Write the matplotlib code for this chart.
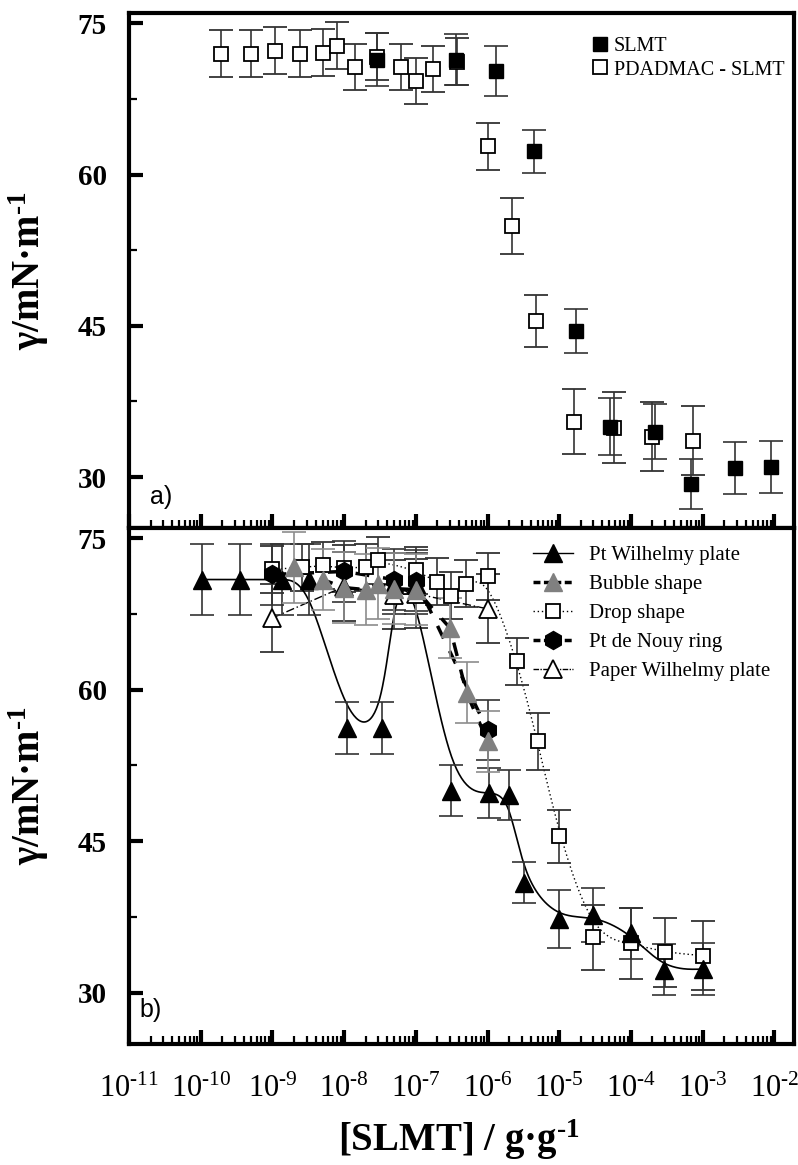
import numpy as np
import matplotlib
matplotlib.use("Agg")
import matplotlib.pyplot as plt
from matplotlib.lines import Line2D
from matplotlib.ticker import LogLocator, FixedLocator, NullFormatter, FuncFormatter

plt.rcParams["font.family"] = ["Liberation Serif", "DejaVu Serif"]
plt.rcParams["mathtext.fontset"] = "custom"
plt.rcParams["mathtext.rm"] = "Liberation Serif:bold"
plt.rcParams["mathtext.bf"] = "Liberation Serif:bold"
plt.rcParams["mathtext.it"] = "Liberation Serif:italic:bold"


# Panel a) data

slmt_x = [2.85e-8, 3.6e-7, 1.3e-6, 4.4e-6, 1.7e-5, 5.1e-5, 2.2e-4, 6.8e-4, 2.8e-3, 8.9e-3]
slmt_y = [71.4, 71.4, 70.3, 62.3, 44.5, 35.0, 34.5, 29.3, 30.9, 31.0]
slmt_err = [2.6, 2.5, 2.5, 2.1, 2.2, 2.8, 2.7, 2.5, 2.6, 2.6]

pdad_x = [1.9e-10, 5.1e-10, 1.1e-9, 2.4e-9, 5.0e-9, 8.0e-9, 1.4e-8, 2.9e-8, 6.3e-8,
          1.0e-7, 1.76e-7, 3.7e-7, 1.0e-6, 2.2e-6, 4.7e-6, 1.6e-5, 5.9e-5, 1.95e-4, 7.4e-4]
pdad_y = [72.0, 72.0, 72.3, 72.0, 72.1, 72.8, 70.7, 71.7, 70.7,
          69.3, 70.5, 71.2, 62.8, 54.9, 45.5, 35.5, 34.9, 34.0, 33.6]
pdad_err = [2.3, 2.3, 2.3, 2.3, 2.3, 2.3, 2.3, 2.3, 2.3,
            2.3, 2.3, 2.3, 2.3, 2.8, 2.6, 3.2, 3.5, 3.4, 3.4]

# Panel b) data

pw_x = [1.05e-10, 3.5e-10, 1.35e-9, 3.2e-9, 1.1e-8, 3.35e-8, 5.0e-8, 1.0e-7, 3.1e-7,
        1.05e-6, 2.0e-6, 3.26e-6, 1.0e-5, 3.0e-5, 1.0e-4, 2.9e-4, 1.0e-3]
pw_y = [70.9, 70.9, 70.9, 70.9, 56.2, 56.2, 70.5, 70.5, 50.0,
        49.8, 49.6, 40.9, 37.3, 37.7, 35.9, 32.3, 32.35]
pw_err = [3.5, 3.5, 3.5, 3.5, 2.6, 2.6, 3.0, 3.0, 2.5,
          2.5, 2.5, 2.05, 2.85, 2.7, 2.5, 2.5, 2.6]

bub_x = [2e-9, 5e-9, 1e-8, 2e-8, 3e-8, 5e-8, 1e-7, 3e-7, 5.1e-7, 1e-6]
bub_y = [72.1, 70.9, 70.1, 69.9, 70.5, 70.0, 69.9, 66.1, 59.7, 54.9]
bub_err = [3.5, 3.0, 3.5, 3.5, 3.5, 3.5, 3.5, 3.0, 3.0, 3.0]

drop_x = [1e-9, 2.6e-9, 5e-9, 1e-8, 2e-8, 3e-8, 1e-7, 2e-7, 3.1e-7, 5e-7, 1e-6,
          2.6e-6, 5e-6, 1e-5, 3e-5, 1e-4, 3e-4, 1e-3]
drop_y = [71.9, 72.1, 72.3, 72.0, 72.1, 72.8, 71.8, 70.7, 69.3, 70.5, 71.2,
          62.8, 54.9, 45.5, 35.5, 34.9, 34.0, 33.7]
drop_err = [2.3, 2.3, 2.3, 2.3, 2.3, 2.3, 2.3, 2.3, 2.3, 2.3, 2.3,
            2.3, 2.8, 2.6, 3.2, 3.5, 3.4, 3.4]

ring_x = [1e-9, 1e-8, 4.9e-8, 1e-7, 1e-6]
ring_y = [71.4, 71.7, 70.9, 70.8, 56.0]
ring_err = [3.0, 3.0, 3.0, 3.0, 3.0]

paper_x = [1e-9, 1e-8, 5e-8, 1e-7, 1e-6]
paper_y = [67.1, 70.2, 69.4, 69.5, 68.0]
paper_err = [3.4, 3.4, 3.4, 3.4, 3.4]

x_ticks = [10.0 ** k for k in range(-11, -1)]
y_ticks = [30, 45, 60, 75]
y_minor = [37.5, 52.5, 67.5]


def bspline(xs, ys, n=30):
    # clamped uniform cubic B-spline (Origin style "B-Spline" connect), in log-x space
    P = np.column_stack([np.log10(xs), ys])
    P = np.vstack([P[0], P[0], P, P[-1], P[-1]])
    M = np.array([[-1, 3, -3, 1], [3, -6, 3, 0], [-3, 0, 3, 0], [1, 4, 1, 0]]) / 6.0
    t = np.linspace(0, 1, n)
    T = np.column_stack([t ** 3, t ** 2, t, np.ones_like(t)])
    c = np.vstack([T @ M @ P[i:i + 4] for i in range(len(P) - 3)])
    return 10 ** c[:, 0], c[:, 1]


def style_axis(ax, xlabels):
    ax.set_xscale("log")
    ax.set_xlim(1e-11, 10 ** -1.725)
    ax.set_ylim(24.95, 76.0)
    ax.xaxis.set_major_locator(FixedLocator(x_ticks))
    ax.xaxis.set_minor_locator(LogLocator(base=10, subs=np.arange(2, 10), numticks=30))
    ax.xaxis.set_minor_formatter(NullFormatter())
    ax.yaxis.set_major_locator(FixedLocator(y_ticks))
    ax.yaxis.set_minor_locator(FixedLocator(y_minor))
    ax.tick_params(which="major", direction="in", length=10, width=3, top=False, right=False)
    ax.tick_params(which="minor", direction="in", length=5.5, width=1.6, top=False, right=False)
    ax.tick_params(axis="y", labelsize=21, pad=16)
    for lab in ax.get_yticklabels():
        lab.set_fontweight("bold")
    if xlabels:
        ax.xaxis.set_major_formatter(
            FuncFormatter(lambda v, p: r"$\mathregular{10^{\text{-}%d}}$" % round(-np.log10(v))))
        ax.tick_params(axis="x", labelsize=22, pad=22)
    else:
        ax.xaxis.set_major_formatter(NullFormatter())
    for s in ax.spines.values():
        s.set_linewidth(3)
    ax.set_ylabel("γ/mN·m$^{\\text{-}1}$", fontsize=28, fontweight="bold")
    ax.yaxis.set_label_coords(-0.118, 0.5)


fig = plt.figure(figsize=(7.98, 11.65), dpi=100)
ax1 = fig.add_axes([0.1617, 0.5468, 0.8333, 0.4418])
ax2 = fig.add_axes([0.1617, 0.1039, 0.8333, 0.4429])

eb = dict(elinewidth=1.2, capsize=8.5, capthick=1.2)

# a)
ax1.errorbar(pdad_x, pdad_y, yerr=pdad_err, fmt="s", ms=10, mfc="white", mec="black",
             mew=1.3, ecolor="#333333", **eb)
ax1.errorbar(slmt_x, slmt_y, yerr=slmt_err, fmt="s", ms=10, mfc="black", mec="black",
             ecolor="#333333", **eb)
style_axis(ax1, False)
ax1.text(0.032, 0.06, "a)", transform=ax1.transAxes, fontsize=18,
         family="Liberation Sans", va="center", ha="left")

h1 = [Line2D([], [], ls="none", marker="s", ms=10, mfc="black", mec="black"),
      Line2D([], [], ls="none", marker="s", ms=10, mfc="white", mec="black", mew=1.3)]
ax1.legend(h1, ["SLMT", "PDADMAC - SLMT"], loc="upper left", bbox_to_anchor=(0.684, 0.969),
           frameon=False, fontsize=14.5, handlelength=0.8, handletextpad=0.3,
           labelspacing=0.2, borderaxespad=0)

# b)
lx, ly = bspline(drop_x, drop_y)
ax2.plot(lx, ly, color="black", lw=1.0, ls=(0, (1, 2)))
ax2.errorbar(drop_x, drop_y, yerr=drop_err, fmt="s", ms=10, mfc="white", mec="black",
             mew=1.3, ecolor="#333333", **eb)

ax2.plot(paper_x, paper_y, color="black", lw=1.0, ls=(0, (6, 2, 1, 2)))
ax2.errorbar(paper_x, paper_y, yerr=paper_err, fmt="^", ms=13.5, mfc="white", mec="black",
             mew=1.3, ecolor="#333333", **eb)

lx, ly = bspline(pw_x, pw_y)
ax2.plot(lx, ly, color="black", lw=1.2)
ax2.errorbar(pw_x, pw_y, yerr=pw_err, fmt="^", ms=13.5, mfc="black", mec="black",
             ecolor="#333333", **eb)

ax2.plot(ring_x, ring_y, color="black", lw=2.5, ls=(0, (4, 4)))
ax2.errorbar(ring_x, ring_y, yerr=ring_err, fmt="h", ms=13, mfc="black", mec="black",
             ecolor="#333333", **eb)

ax2.plot(bub_x, bub_y, color="black", lw=2.5, ls=(0, (4, 4)))
ax2.errorbar(bub_x, bub_y, yerr=bub_err, fmt="^", ms=13.5, mfc="#808080", mec="#808080",
             ecolor="#8c8c8c", **eb)

style_axis(ax2, True)
ax2.text(0.015, 0.066, "b)", transform=ax2.transAxes, fontsize=18,
         family="Liberation Sans", va="center", ha="left")

h2 = [Line2D([], [], color="black", lw=1.0, marker="^", ms=13.5, mfc="black", mec="black"),
      Line2D([], [], color="black", lw=2.5, ls=(0, (2, 1)), marker="^", ms=13.5,
             mfc="#808080", mec="#808080"),
      Line2D([], [], color="black", lw=1.0, ls=(0, (1, 2)), marker="s", ms=10,
             mfc="white", mec="black", mew=1.3),
      Line2D([], [], color="black", lw=2.5, ls=(0, (2, 1)), marker="h", ms=13,
             mfc="black", mec="black"),
      Line2D([], [], color="black", lw=1.0, ls=(0, (4, 1, 1, 1)), marker="^", ms=13.5,
             mfc="white", mec="black", mew=1.3)]
ax2.legend(h2, ["Pt Wilhelmy plate", "Bubble shape", "Drop shape", "Pt de Nouy ring",
                "Paper Wilhelmy plate"], loc="upper left", bbox_to_anchor=(0.595, 0.982),
           frameon=False, fontsize=15, handlelength=1.9, handletextpad=0.8,
           labelspacing=0.45, borderaxespad=0)

fig.text(0.575, 0.022, "[SLMT] / g·g$^{\\text{-}1}$", fontsize=28, fontweight="bold",
         ha="center", va="center")

plt.savefig("out.png", dpi=100)
